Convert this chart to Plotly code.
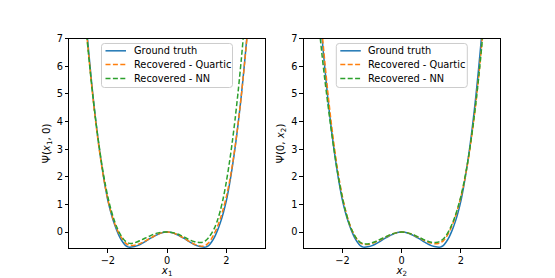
import plotly.graph_objects as go

# ---- data ----
X = [-2.8, -2.7, -2.6, -2.5, -2.4, -2.3, -2.2, -2.1, -2.0, -1.9, -1.8, -1.7, -1.6, -1.5,
     -1.4, -1.3, -1.2, -1.1, -1.0, -0.9, -0.8, -0.7, -0.6, -0.5, -0.4, -0.3, -0.2, -0.1,
     0.0, 0.1, 0.2, 0.3, 0.4, 0.5, 0.6, 0.7, 0.8, 0.9, 1.0, 1.1, 1.2, 1.3, 1.4, 1.5,
     1.6, 1.7, 1.8, 1.9, 2.0, 2.1, 2.2, 2.3, 2.4, 2.5, 2.6, 2.7, 2.8]

# left panel: Psi(x1, 0)
truth_x1 = [8.45, 7.15, 5.98, 4.90, 3.95, 3.10, 2.35, 1.70, 1.14, 0.71, 0.35, 0.06, -0.18, -0.36,
            -0.49, -0.545, -0.545, -0.525, -0.49, -0.44, -0.38, -0.32, -0.25, -0.19, -0.13, -0.08, -0.04, -0.01,
            0.0, -0.01, -0.04, -0.08, -0.13, -0.19, -0.25, -0.32, -0.38, -0.44, -0.49, -0.525, -0.545, -0.545,
            -0.49, -0.36, -0.18, 0.06, 0.35, 0.71, 1.14, 1.70, 2.35, 3.10, 3.95, 4.90, 5.98, 7.15, 8.45]
quartic_x1 = [8.3, 7.0, 5.88, 4.82, 3.88, 3.05, 2.32, 1.70, 1.17, 0.74, 0.40, 0.12, -0.10, -0.27,
              -0.40, -0.47, -0.49, -0.48, -0.45, -0.41, -0.36, -0.30, -0.24, -0.18, -0.12, -0.07, -0.03, -0.01,
              0.0, -0.01, -0.03, -0.07, -0.12, -0.18, -0.24, -0.31, -0.37, -0.43, -0.47, -0.50, -0.51, -0.48,
              -0.39, -0.24, -0.04, 0.20, 0.50, 0.86, 1.28, 1.80, 2.42, 3.14, 3.96, 4.90, 5.95, 7.10, 8.4]
nn_x1 = [8.2, 6.95, 5.85, 4.85, 3.95, 3.15, 2.42, 1.80, 1.27, 0.83, 0.47, 0.18, -0.05, -0.22,
         -0.34, -0.40, -0.41, -0.39, -0.35, -0.30, -0.25, -0.20, -0.15, -0.10, -0.06, -0.03, -0.01, 0.0,
         0.0, -0.005, -0.02, -0.05, -0.09, -0.14, -0.19, -0.25, -0.30, -0.34, -0.36, -0.38, -0.37, -0.31,
         -0.20, -0.05, 0.15, 0.43, 0.80, 1.26, 1.83, 2.50, 3.27, 4.14, 5.12, 6.21, 7.41, 8.7, 10.1]

# right panel: Psi(0, x2)
truth_x2 = [8.45, 7.15, 5.98, 4.90, 3.95, 3.10, 2.35, 1.70, 1.14, 0.71, 0.35, 0.06, -0.18, -0.36,
            -0.49, -0.545, -0.545, -0.525, -0.49, -0.44, -0.38, -0.32, -0.25, -0.19, -0.13, -0.08, -0.04, -0.01,
            0.0, -0.01, -0.04, -0.08, -0.13, -0.19, -0.25, -0.32, -0.38, -0.44, -0.49, -0.525, -0.545, -0.545,
            -0.49, -0.36, -0.18, 0.06, 0.35, 0.71, 1.14, 1.70, 2.35, 3.10, 3.95, 4.90, 5.98, 7.15, 8.45]
quartic_x2 = [8.6, 7.35, 6.2, 5.12, 4.15, 3.28, 2.50, 1.84, 1.27, 0.80, 0.42, 0.12, -0.11, -0.28,
              -0.39, -0.44, -0.45, -0.44, -0.41, -0.37, -0.32, -0.27, -0.21, -0.16, -0.11, -0.06, -0.03, -0.01,
              0.0, -0.01, -0.03, -0.06, -0.11, -0.16, -0.21, -0.27, -0.32, -0.37, -0.40, -0.42, -0.42, -0.39,
              -0.32, -0.19, 0.00, 0.24, 0.53, 0.88, 1.28, 1.76, 2.33, 3.00, 3.78, 4.66, 5.66, 6.80, 8.05]
nn_x2 = [7.55, 6.5, 5.55, 4.68, 3.85, 3.08, 2.38, 1.76, 1.22, 0.77, 0.40, 0.11, -0.11, -0.27,
         -0.37, -0.42, -0.43, -0.42, -0.39, -0.35, -0.30, -0.25, -0.20, -0.15, -0.10, -0.06, -0.03, -0.01,
         0.0, -0.01, -0.03, -0.06, -0.10, -0.15, -0.20, -0.25, -0.30, -0.34, -0.37, -0.38, -0.37, -0.33,
         -0.25, -0.12, 0.06, 0.29, 0.57, 0.91, 1.31, 1.80, 2.37, 3.03, 3.79, 4.65, 5.62, 6.72, 7.95]

series_names = ["Ground truth", "Recovered - Quartic", "Recovered - NN"]
x_tickvals = [-2, 0, 2]
x_ticktext = ["\u22122", "0", "2"]
y_tickvals = [0, 1, 2, 3, 4, 5, 6, 7]

# ---- styling ----
W, H = 555, 278
colors = ["#1f77b4", "#ff7f0e", "#2ca02c"]
dashes = ["solid", "5px,2.4px", "5px,2.4px"]
FONT = "DejaVu Sans"
FS = 9.8
TFS = 10.2

fig = go.Figure()
panels = [
    ([truth_x1, quartic_x1, nn_x1], "x", "y"),
    ([truth_x2, quartic_x2, nn_x2], "x2", "y2"),
]
for series, xa, ya in panels:
    for name, ys, c, d in zip(series_names, series, colors, dashes):
        fig.add_trace(go.Scatter(
            x=X, y=ys, mode="lines", name=name, xaxis=xa, yaxis=ya, showlegend=False,
            line=dict(color=c, width=1.5, dash=d, shape="spline", smoothing=0.8),
        ))

# ---- legend boxes drawn in paper coordinates (matplotlib-like compact legend) ----
def px(xp):
    return xp / W

def py(yp):
    return 1 - yp / H

def rounded_box(x0, y0, x1, y1, r=3):
    pts = [
        f"M {px(x0 + r)},{py(y0)}",
        f"L {px(x1 - r)},{py(y0)}",
        f"Q {px(x1)},{py(y0)} {px(x1)},{py(y0 + r)}",
        f"L {px(x1)},{py(y1 - r)}",
        f"Q {px(x1)},{py(y1)} {px(x1 - r)},{py(y1)}",
        f"L {px(x0 + r)},{py(y1)}",
        f"Q {px(x0)},{py(y1)} {px(x0)},{py(y1 - r)}",
        f"L {px(x0)},{py(y0 + r)}",
        f"Q {px(x0)},{py(y0)} {px(x0 + r)},{py(y0)}",
        "Z",
    ]
    return " ".join(pts)

shapes = []
annotations = []
for ox in (101.5, 336.3):
    shapes.append(dict(type="path", xref="paper", yref="paper",
                       path=rounded_box(ox, 38.3, ox + 131, 83.3),
                       fillcolor="rgba(255,255,255,0.8)",
                       line=dict(color="#cccccc", width=1), layer="above"))
    for i, (name, c, d) in enumerate(zip(series_names, colors, dashes)):
        yrow = 45.8 + 14.1 * i
        shapes.append(dict(type="line", xref="paper", yref="paper",
                           x0=px(ox + 4), x1=px(ox + 24.5), y0=py(yrow), y1=py(yrow),
                           line=dict(color=c, width=1.5, dash=d), layer="above"))
        annotations.append(dict(xref="paper", yref="paper", x=px(ox + 30), y=py(yrow),
                                xanchor="left", yanchor="middle", showarrow=False,
                                text=name, font=dict(family=FONT, size=FS, color="black")))

axis_common = dict(
    showline=True, linecolor="black", linewidth=1, mirror=True,
    ticks="outside", ticklen=3.5, tickwidth=1, tickcolor="black",
    showgrid=False, zeroline=False,
    tickfont=dict(family=FONT, size=FS, color="black"),
)
xaxis_common = dict(axis_common, range=[-3.3, 3.3], tickvals=x_tickvals, ticktext=x_ticktext)
yaxis_common = dict(axis_common, range=[-0.58, 7.0], tickvals=y_tickvals)

fig.update_layout(
    width=W, height=H,
    margin=dict(l=0, r=0, t=0, b=0),
    paper_bgcolor="white", plot_bgcolor="white",
    font=dict(family=FONT, size=FS, color="black"),
    showlegend=False,
    xaxis=dict(xaxis_common, domain=[0.125, 0.4773], anchor="y",
               title=dict(text="<i>x</i><sub>1</sub>", standoff=3, font=dict(size=TFS))),
    yaxis=dict(yaxis_common, domain=[0.11, 0.88], anchor="x",
               title=dict(text="\u03a8(<i>x</i><sub>1</sub>, 0)", standoff=4, font=dict(size=TFS))),
    xaxis2=dict(xaxis_common, domain=[0.5477, 0.9], anchor="y2",
                title=dict(text="<i>x</i><sub>2</sub>", standoff=3, font=dict(size=TFS))),
    yaxis2=dict(yaxis_common, domain=[0.11, 0.88], anchor="x2",
                title=dict(text="\u03a8(0, <i>x</i><sub>2</sub>)", standoff=4, font=dict(size=TFS))),
    shapes=shapes,
    annotations=annotations,
)

fig.write_html("out.html", config={"displayModeBar": False},
               post_script="document.body.style.margin='0px';")
